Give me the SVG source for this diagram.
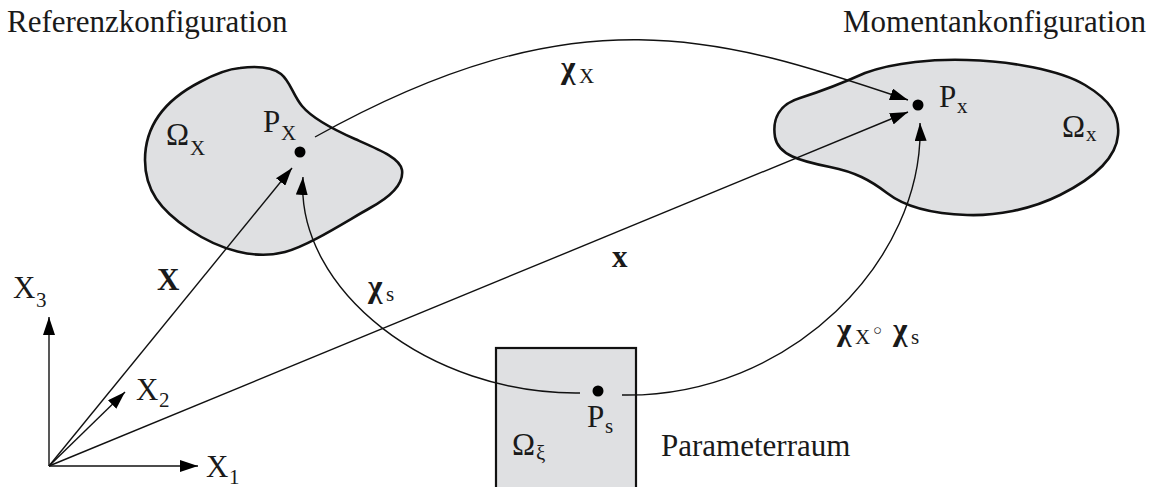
<svg xmlns="http://www.w3.org/2000/svg" width="1163" height="487" viewBox="0 0 1163 487">
<defs>
<marker id="ah" markerUnits="userSpaceOnUse" markerWidth="20" markerHeight="12" refX="18" refY="6" orient="auto">
<path d="M0,0 L18,6 L0,12 Z" fill="#000"/>
</marker>
<style>
.t{font-family:"Liberation Serif","Times New Roman",serif;fill:#1a1a1a}
.big{font-size:31px}
.sub{font-size:21px}
.b{font-weight:bold}
.body{fill:#dfe0e2;stroke:#111;stroke-width:2.6}
.c{fill:none;stroke:#111;stroke-width:1.4}
.ca{fill:none;stroke:#111;stroke-width:1.4;marker-end:url(#ah)}
</style>
</defs>
<rect width="1163" height="487" fill="#fff"/>
<text class="t big" x="7" y="32">Referenzkonfiguration</text>
<text class="t big" x="843" y="32">Momentankonfiguration</text>

<g id="omegaX">
<path class="body" d="M240,68 C256,66 272,67 281,74 C290,81 293,95 302,106 C312,118 330,128 355,139 C380,150 400,158 402,170 C404,184 392,196 370,208 C345,222 310,245 285,252 C255,260 220,250 190,230 C160,210 145,190 145,160 C145,125 165,100 200,82 C215,74 228,69 240,68 Z"/>
<text class="t big" x="166" y="145">Ω</text><text class="t sub" x="190" y="155">X</text>
<text class="t big" x="263" y="132">P</text><text class="t sub" x="281" y="140">X</text>
<circle cx="300" cy="152" r="5.5" fill="#000"/>
</g>

<g id="omegax">
<path class="body" d="M775,137 C772,118 780,104 800,98 C825,90 845,82 865,73 C895,62 935,59 967,60 C1010,61 1060,70 1085,85 C1110,100 1120,115 1118,135 C1116,160 1090,180 1060,195 C1030,210 995,216 967,215 C935,214 905,207 887,193 C870,180 855,172 830,167 C800,161 778,155 775,137 Z"/>
<circle cx="918" cy="105" r="5.5" fill="#000"/>
<text class="t big" x="939" y="107">P</text><text class="t sub" x="957" y="113">x</text>
<text class="t big" x="1062" y="137">Ω</text><text class="t sub" x="1086" y="141">x</text>
</g>

<g id="param">
<rect x="496" y="348" width="140" height="150" fill="#dfe0e2" stroke="#111" stroke-width="2.2"/>
<circle cx="598" cy="391" r="5.5" fill="#000"/>
<text class="t big" x="587" y="427">P</text><text class="t sub" x="605" y="433">s</text>
<text class="t big" x="512" y="455">Ω</text><text class="t sub" x="536" y="460">ξ</text>
<text class="t big" x="661" y="456">Parameterraum</text>
</g>

<g id="axes">
<line class="ca" x1="49" y1="466" x2="198" y2="466"/>
<line class="ca" x1="49" y1="466" x2="49" y2="317"/>
<line class="ca" x1="49" y1="466" x2="125" y2="392"/>
<text class="t big" x="206" y="477">X</text><text class="t sub" x="229" y="484">1</text>
<text class="t big" x="13" y="298">X</text><text class="t sub" x="36" y="307">3</text>
<text class="t big" x="136" y="400">X</text><text class="t sub" x="159" y="407">2</text>
</g>

<g id="connectors">
<line class="ca" x1="49" y1="466" x2="292" y2="168"/>
<line class="ca" x1="49" y1="466" x2="908" y2="112"/>
<path class="ca" d="M580,393 C430,395 295,290 303,177"/>
<path class="ca" d="M622,395 C790,398 925,260 920,123"/>
<path class="ca" d="M315,137 C577,-9 719,36 908,100"/>
</g>

<g id="labels">
<text class="t big b" x="157" y="290">X</text>
<text class="t big b" x="612" y="267">x</text>
<text class="t big b" x="561" y="78">χ</text><text class="t sub" x="579" y="83">X</text>
<text class="t big b" x="368" y="297">χ</text><text class="t sub" x="386" y="301">s</text>
<text class="t big b" x="837" y="340">χ</text><text class="t sub" x="855" y="344">X</text>
<text class="t" style="font-size:15px" x="873" y="335">○</text>
<text class="t big b" x="893" y="340">χ</text><text class="t sub" x="911" y="344">s</text>
</g>
</svg>
